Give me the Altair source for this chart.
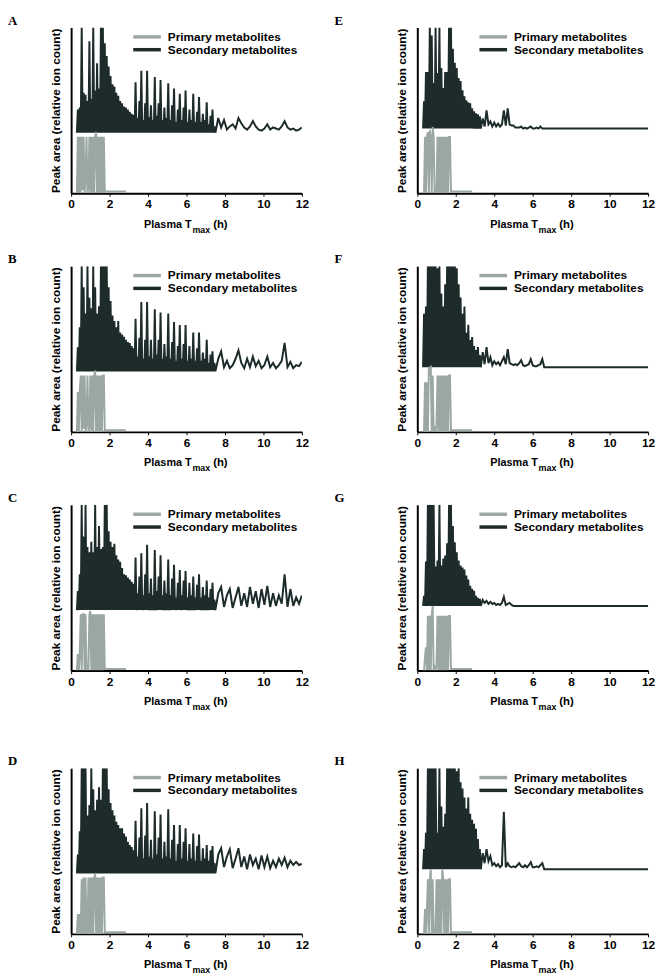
import altair as alt
import pandas as pd

# ---------------- data ----------------
# sampling times (h)
X_EARLY = [
    0.30, 0.35, 0.40, 0.45, 0.50, 0.55, 0.60, 0.65, 0.70, 0.75, 0.80, 0.85, 0.90, 0.95, 1.00,
    1.05, 1.10, 1.15, 1.20, 1.25, 1.30, 1.35, 1.40, 1.45, 1.50, 1.55, 1.60, 1.65, 1.70, 1.75,
    1.80, 1.85, 1.90, 1.95, 2.00, 2.05, 2.10, 2.15, 2.20, 2.25, 2.30, 2.35, 2.40, 2.45, 2.50,
    2.55, 2.60, 2.65, 2.70, 2.75, 2.80, 2.85, 2.90, 2.95, 3.00, 3.05, 3.10, 3.15, 3.20, 3.25, 3.30,
]
X_MID_FINE = [
    3.35, 3.40, 3.45, 3.50, 3.55, 3.60, 3.65, 3.70, 3.75, 3.80, 3.85, 3.90, 3.95, 4.00,
    4.05, 4.10, 4.15, 4.20, 4.25, 4.30, 4.35, 4.40, 4.45, 4.50, 4.55, 4.60, 4.65, 4.70,
    4.75, 4.80, 4.85, 4.90, 4.95, 5.00, 5.05, 5.10, 5.15, 5.20, 5.25, 5.30, 5.35, 5.40,
    5.45, 5.50, 5.55, 5.60, 5.65, 5.70, 5.75, 5.80, 5.85, 5.90, 5.95, 6.00, 6.05, 6.10,
    6.15, 6.20, 6.25, 6.30, 6.35, 6.40, 6.45, 6.50, 6.55, 6.60, 6.65, 6.70, 6.75, 6.80,
    6.85, 6.90, 6.95, 7.00, 7.05, 7.10, 7.15, 7.20, 7.25, 7.30, 7.35, 7.40, 7.45, 7.50,
]
X_MID_COARSE = [
    3.4, 3.5, 3.6, 3.7, 3.8, 3.9, 4.0, 4.1, 4.2, 4.3, 4.4, 4.5, 4.6, 4.7, 4.8, 4.9, 5.0, 5.1,
    5.2, 5.3, 5.4, 5.5, 5.6, 5.7, 5.8, 5.9, 6.0, 6.1, 6.2, 6.3, 6.4, 6.5, 6.6, 6.7, 6.8, 6.9,
    7.0, 7.1, 7.2, 7.3, 7.4, 7.5,
]
X_LATE = [
    7.65, 7.8, 7.95, 8.1, 8.25, 8.4, 8.55, 8.7, 8.85, 9.0, 9.15, 9.3, 9.45, 9.6, 9.75, 9.9,
    10.05, 10.2, 10.35, 10.5, 10.65, 10.8, 10.95, 11.1, 11.25, 11.4, 11.55, 11.7, 11.85, 12.0,
]
X_LEFT = X_EARLY + X_MID_FINE + X_LATE      # panels A-D
X_RIGHT = X_EARLY + X_MID_COARSE + X_LATE   # panels E-H

# secondary metabolites: relative peak area (% of the upper band)
SEC_A_EARLY = [0, 22, 0, 24, 0, 100, 0, 38, 0, 36, 0, 30, 0, 87, 0, 32, 0, 100, 0, 40, 0, 66, 0, 42, 0,
               100, 0, 100, 0, 85, 0, 73, 0, 63, 0, 54, 0, 46, 0, 44, 0, 38, 0, 35, 0, 30, 0, 28, 0,
               25, 0, 24, 0, 22, 0, 20, 0, 18, 0, 17, 0]
SEC_A_MID = [48, 0, 14, 0, 30, 0, 59, 0, 12, 0, 28, 0, 59, 0, 15, 0, 26, 0, 12, 0, 53, 0, 16, 0,
             28, 0, 50, 0, 12, 0, 24, 0, 14, 0, 47, 0, 12, 0, 26, 0, 42, 0, 10, 0, 22, 0, 37, 0,
             12, 0, 24, 0, 40, 0, 10, 0, 22, 0, 12, 0, 37, 0, 10, 0, 20, 0, 34, 0, 10, 0, 18, 0,
             12, 0, 29, 0, 8, 0, 16, 0, 22, 0, 6, 0]
SEC_A_LATE = [14, 5, 12, 3, 6, 8, 4, 14, 9, 5, 3, 6, 11, 6, 3, 2, 4, 8, 3, 5, 4, 3, 6, 11, 5, 3, 4, 2, 3, 5]

SEC_B_EARLY = [0, 23, 0, 42, 0, 100, 0, 80, 0, 55, 0, 100, 0, 70, 0, 60, 0, 100, 0, 80, 0, 55, 0, 62, 0,
               100, 0, 100, 0, 100, 0, 100, 0, 80, 0, 67, 0, 53, 0, 48, 0, 42, 0, 48, 0, 37, 0, 35, 0,
               33, 0, 30, 0, 28, 0, 27, 0, 24, 0, 22, 0]
SEC_B_MID = [50, 0, 14, 0, 32, 0, 66, 0, 12, 0, 30, 0, 66, 0, 14, 0, 30, 0, 12, 0, 59, 0, 16, 0,
             30, 0, 56, 0, 12, 0, 26, 0, 14, 0, 55, 0, 12, 0, 28, 0, 47, 0, 10, 0, 24, 0, 44, 0,
             12, 0, 26, 0, 44, 0, 10, 0, 24, 0, 12, 0, 37, 0, 10, 0, 22, 0, 37, 0, 10, 0, 18, 0,
             12, 0, 30, 0, 8, 0, 16, 0, 19, 0, 8, 0]
SEC_B_LATE = [12, 19, 4, 10, 3, 6, 12, 20, 8, 3, 12, 4, 14, 5, 10, 3, 6, 14, 4, 8, 3, 6, 10, 27, 4, 9, 3, 6, 5, 9]

SEC_C_EARLY = [0, 18, 0, 34, 0, 100, 0, 70, 0, 100, 0, 60, 0, 55, 0, 65, 0, 55, 0, 100, 0, 60, 0, 80, 0,
               58, 0, 60, 0, 100, 0, 100, 0, 75, 0, 65, 0, 60, 0, 63, 0, 52, 0, 48, 0, 46, 0, 40, 0,
               34, 0, 33, 0, 31, 0, 29, 0, 27, 0, 25, 0]
SEC_C_MID = [50, 0, 16, 0, 32, 0, 54, 0, 14, 0, 34, 0, 62, 0, 16, 0, 30, 0, 14, 0, 57, 0, 18, 0,
             32, 0, 52, 0, 14, 0, 28, 0, 16, 0, 48, 0, 14, 0, 30, 0, 43, 0, 12, 0, 26, 0, 38, 0,
             14, 0, 28, 0, 37, 0, 12, 0, 26, 0, 14, 0, 32, 0, 12, 0, 24, 0, 34, 0, 12, 0, 22, 0,
             14, 0, 28, 0, 12, 0, 20, 0, 26, 0, 10, 0]
SEC_C_LATE = [16, 22, 3, 14, 20, 2, 12, 22, 4, 16, 3, 22, 6, 18, 2, 20, 5, 23, 3, 16, 4, 14, 6, 34, 3, 20, 4, 12, 6, 14]

SEC_D_EARLY = [0, 18, 0, 40, 0, 100, 0, 100, 0, 100, 0, 55, 0, 65, 0, 100, 0, 80, 0, 60, 0, 70, 0, 82, 0,
               70, 0, 100, 0, 100, 0, 100, 0, 80, 0, 67, 0, 60, 0, 55, 0, 49, 0, 46, 0, 43, 0, 43, 0,
               38, 0, 35, 0, 30, 0, 27, 0, 25, 0, 22, 0]
SEC_D_MID = [50, 0, 16, 0, 34, 0, 62, 0, 14, 0, 36, 0, 67, 0, 16, 0, 32, 0, 14, 0, 59, 0, 18, 0,
             34, 0, 56, 0, 14, 0, 30, 0, 16, 0, 61, 0, 14, 0, 32, 0, 46, 0, 12, 0, 28, 0, 46, 0,
             14, 0, 30, 0, 43, 0, 12, 0, 28, 0, 14, 0, 38, 0, 12, 0, 26, 0, 37, 0, 12, 0, 24, 0,
             14, 0, 27, 0, 12, 0, 22, 0, 26, 0, 10, 0]
SEC_D_LATE = [18, 24, 6, 16, 23, 5, 14, 24, 6, 16, 4, 18, 8, 14, 4, 17, 6, 16, 5, 12, 6, 14, 8, 15, 6, 12, 8, 11, 8, 9]

SEC_E_EARLY = [0, 27, 0, 56, 0, 56, 0, 100, 0, 92, 0, 45, 0, 100, 0, 55, 0, 100, 0, 60, 0, 40, 0, 56, 0,
               56, 0, 100, 0, 100, 0, 79, 0, 65, 0, 60, 0, 50, 0, 47, 0, 38, 0, 32, 0, 28, 0, 26, 0,
               25, 0, 20, 0, 17, 0, 15, 0, 14, 0, 12, 0]
SEC_E_MID = [10, 2, 18, 4, 7, 2, 6, 2, 5, 2, 4, 18, 3, 20, 4, 3, 3, 1, 1, 1, 2, 0, 1, 0, 1,
             2, 0, 0, 1, 0, 2, 0, 0, 0, 0, 0, 0, 0, 0, 0, 0, 0]
SEC_F_EARLY = [0, 53, 0, 60, 0, 100, 0, 100, 0, 100, 0, 100, 0, 100, 0, 98, 0, 100, 0, 73, 0, 60, 0, 82, 0,
               100, 0, 100, 0, 100, 0, 100, 0, 100, 0, 98, 0, 82, 0, 69, 0, 53, 0, 60, 0, 34, 0, 42, 0,
               27, 0, 30, 0, 21, 0, 17, 0, 20, 0, 12, 0]
SEC_F_MID = [15, 3, 20, 4, 10, 2, 6, 3, 5, 2, 6, 10, 3, 18, 4, 3, 2, 3, 2, 4, 7, 2, 1, 2, 3,
             8, 2, 1, 1, 2, 3, 8, 0, 0, 0, 0, 0, 0, 0, 0, 0, 0]
SEC_G_EARLY = [0, 10, 0, 44, 0, 100, 0, 100, 0, 100, 0, 100, 0, 39, 0, 45, 0, 100, 0, 40, 0, 47, 0, 50, 0,
               62, 0, 100, 0, 100, 0, 79, 0, 63, 0, 53, 0, 45, 0, 40, 0, 38, 0, 36, 0, 30, 0, 26, 0,
               20, 0, 17, 0, 15, 0, 10, 0, 8, 0, 7, 0]
SEC_G_MID = [6, 3, 5, 2, 4, 2, 3, 1, 2, 1, 3, 9, 1, 2, 3, 1, 0, 0, 0, 0, 0, 0, 0, 0, 0,
             0, 0, 0, 0, 0, 0, 0, 0, 0, 0, 0, 0, 0, 0, 0, 0, 0]
SEC_H_EARLY = [0, 20, 0, 36, 0, 100, 0, 100, 0, 100, 0, 100, 0, 100, 0, 36, 0, 100, 0, 62, 0, 42, 0, 55, 0,
               100, 0, 100, 0, 100, 0, 100, 0, 100, 0, 97, 0, 100, 0, 86, 0, 80, 0, 71, 0, 60, 0, 71, 0,
               55, 0, 49, 0, 45, 0, 40, 0, 30, 0, 20, 0]
SEC_H_MID = [16, 6, 20, 8, 13, 4, 6, 3, 5, 2, 4, 57, 2, 6, 3, 2, 3, 2, 4, 6, 3, 2, 4, 2, 4,
             7, 2, 2, 3, 2, 4, 6, 0, 0, 0, 0, 0, 0, 0, 0, 0, 0]
SEC_FLAT_LATE = [0, 0, 0, 0, 0, 0, 0, 0, 0, 0, 0, 0, 0, 0, 0, 0, 0, 0, 0, 0, 0, 0, 0, 0, 0, 0, 0, 0, 0, 0]

# primary metabolites: relative peak area (% of axis), 0.30 h .. 1.75 h
PRI_A = [0, 34, 0, 34, 0, 34, 2, 34, 0, 8, 34, 0, 3, 34, 0, 34, 0, 34, 0, 34, 37, 0, 34, 0, 34, 0, 34, 0, 34, 1]
PRI_B = [0, 24, 0, 25, 34, 0, 34, 2, 34, 0, 5, 34, 0, 3, 34, 0, 34, 0, 34, 37, 0, 34, 0, 34, 0, 34, 0, 34, 34, 1]
PRI_C = [0, 10, 0, 10, 34, 0, 34, 34, 0, 34, 0, 3, 0, 34, 36, 0, 34, 0, 34, 0, 34, 0, 34, 0, 34, 0, 34, 0, 34, 1]
PRI_D = [0, 12, 0, 12, 0, 33, 0, 34, 0, 34, 2, 0, 34, 0, 34, 0, 34, 0, 34, 36, 0, 34, 0, 34, 0, 34, 0, 34, 34, 1]
PRI_E = [0, 0, 34, 0, 34, 37, 0, 38, 34, 0, 40, 34, 0, 3, 0, 34, 0, 34, 0, 34, 0, 34, 0, 34, 0, 34, 0, 34, 34, 1]
PRI_F = [0, 0, 30, 0, 30, 0, 39, 34, 40, 0, 34, 0, 2, 0, 4, 34, 0, 34, 0, 34, 0, 34, 0, 34, 0, 34, 0, 34, 34, 1]
PRI_G = [0, 0, 8, 14, 0, 33, 0, 33, 0, 33, 39, 0, 2, 0, 3, 33, 0, 33, 0, 33, 0, 33, 0, 33, 0, 33, 0, 33, 33, 1]
PRI_H = [0, 0, 15, 0, 15, 33, 0, 33, 39, 0, 33, 0, 3, 0, 33, 0, 33, 0, 33, 0, 39, 33, 0, 33, 0, 33, 0, 33, 33, 1]
# low residual tail of primary metabolites, 1.80 h .. 2.85 h
PRI_TAIL = [1, 1, 1, 1, 1, 1, 1, 1, 1, 1, 1, 1, 1, 1, 1, 1, 1, 1, 1, 1, 1, 1]

PANELS = ["A", "B", "C", "D", "E", "F", "G", "H"]
SECONDARY = {
    "A": SEC_A_EARLY + SEC_A_MID + SEC_A_LATE,
    "B": SEC_B_EARLY + SEC_B_MID + SEC_B_LATE,
    "C": SEC_C_EARLY + SEC_C_MID + SEC_C_LATE,
    "D": SEC_D_EARLY + SEC_D_MID + SEC_D_LATE,
    "E": SEC_E_EARLY + SEC_E_MID + SEC_FLAT_LATE,
    "F": SEC_F_EARLY + SEC_F_MID + SEC_FLAT_LATE,
    "G": SEC_G_EARLY + SEC_G_MID + SEC_FLAT_LATE,
    "H": SEC_H_EARLY + SEC_H_MID + SEC_FLAT_LATE,
}
TIMES = {k: (X_LEFT if k in "ABCD" else X_RIGHT) for k in PANELS}
PRIMARY = {"A": PRI_A, "B": PRI_B, "C": PRI_C, "D": PRI_D,
           "E": PRI_E, "F": PRI_F, "G": PRI_G, "H": PRI_H}
# base level (fraction of axis) of the secondary-metabolite band
SEC_BASE = {"A": 0.365, "B": 0.365, "C": 0.365, "D": 0.365,
            "E": 0.39, "F": 0.39, "G": 0.39, "H": 0.39}

LEGEND_LABELS = ["Primary metabolites", "Secondary metabolites"]
X_TICKS = [0, 2, 4, 6, 8, 10, 12]
X_TITLE = ["Plasma T", "max", "(h)"]
Y_TITLE = "Peak area (relative ion count)"

# ---------------- style ----------------
DARK = "#1d2b2b"
GRAY = "#9aa7a3"
SANS = "Liberation Sans"
SERIF = "Liberation Serif"
W, H = 234, 168

for k in PANELS:
    assert len(SECONDARY[k]) == len(TIMES[k]), k
    assert len(PRIMARY[k]) == 30, k


def one(label):
    return pd.DataFrame({"label": [label]})


def panel(key, letter_dx):
    sec_df = pd.DataFrame({"t": TIMES[key], "s": SECONDARY[key]})
    pri_vals = PRIMARY[key] + PRI_TAIL
    pri_df = pd.DataFrame({"t": X_EARLY[:len(pri_vals)], "p": pri_vals})
    base = SEC_BASE[key]

    xenc = alt.X("t:Q", scale=alt.Scale(domain=[0, 12], nice=False, zero=False),
                 axis=alt.Axis(values=X_TICKS, title=None, grid=False, labelFont=SANS,
                               labelFontWeight="bold", labelFontSize=12, labelColor="black",
                               domainColor="black", domainWidth=2, tickColor="black",
                               tickSize=3, tickWidth=1, labelPadding=3, labelFlush=False))
    yenc = alt.Y("y:Q", scale=alt.Scale(domain=[0, 1], nice=False, zero=True),
                 axis=alt.Axis(labels=False, ticks=False, grid=False, title=Y_TITLE,
                               titleFont=SANS, titleFontWeight="bold", titleFontSize=12,
                               titleColor="black", titlePadding=9,
                               domainColor="black", domainWidth=2))

    sec = (alt.Chart(sec_df)
           .transform_calculate(y=f"{base} + datum.s / 100 * {1 - base}")
           .mark_line(color=DARK, strokeWidth=2, clip=True, strokeJoin="miter")
           .encode(x=xenc, y=yenc))
    pri = (alt.Chart(pri_df)
           .transform_calculate(y="datum.p / 100")
           .mark_line(color=GRAY, strokeWidth=2, clip=True, strokeJoin="miter")
           .encode(x=xenc, y=yenc))

    leg = []
    for i, (lab, col) in enumerate(zip(LEGEND_LABELS, [GRAY, DARK])):
        yy = 9.5 + 13 * i
        leg.append(alt.Chart(one(lab)).mark_rule(color=col, strokeWidth=3.5)
                   .encode(x=alt.value(63), x2=alt.value(91), y=alt.value(yy)))
        leg.append(alt.Chart(one(lab)).mark_text(align="left", baseline="middle", font=SANS,
                                                 fontWeight="bold", fontSize=12, color="black")
                   .encode(x=alt.value(98), y=alt.value(yy), text="label:N"))

    letter = (alt.Chart(one(key)).mark_text(align="left", baseline="alphabetic", font=SERIF,
                                             fontWeight="bold", fontSize=13, color="black")
              .encode(x=alt.value(letter_dx), y=alt.value(-3), text="label:N"))

    xt = [
        alt.Chart(one(X_TITLE[0])).mark_text(align="left", baseline="alphabetic", font=SANS,
                                             fontWeight="bold", fontSize=11, color="black")
        .encode(x=alt.value(74), y=alt.value(H + 35), text="label:N"),
        alt.Chart(one(X_TITLE[1])).mark_text(align="left", baseline="alphabetic", font=SANS,
                                             fontWeight="bold", fontSize=9, color="black")
        .encode(x=alt.value(123), y=alt.value(H + 40), text="label:N"),
        alt.Chart(one(X_TITLE[2])).mark_text(align="left", baseline="alphabetic", font=SANS,
                                             fontWeight="bold", fontSize=11.5, color="black")
        .encode(x=alt.value(144), y=alt.value(H + 35), text="label:N"),
    ]

    return alt.layer(sec, pri, *leg, letter, *xt).properties(width=W, height=H)


def row(a, b):
    return alt.hconcat(panel(a, -64), panel(b, -84), spacing=117, bounds="flush")


top3 = alt.vconcat(row("A", "E"), row("B", "F"), row("C", "G"), spacing=19)
chart = (alt.vconcat(top3, row("D", "H"), spacing=44)
         .properties(padding=0)
         .configure_view(stroke=None)
         .configure_axis(labelFont=SANS, titleFont=SANS))

chart.save("out.html", embed_options={"renderer": "svg", "actions": False})
